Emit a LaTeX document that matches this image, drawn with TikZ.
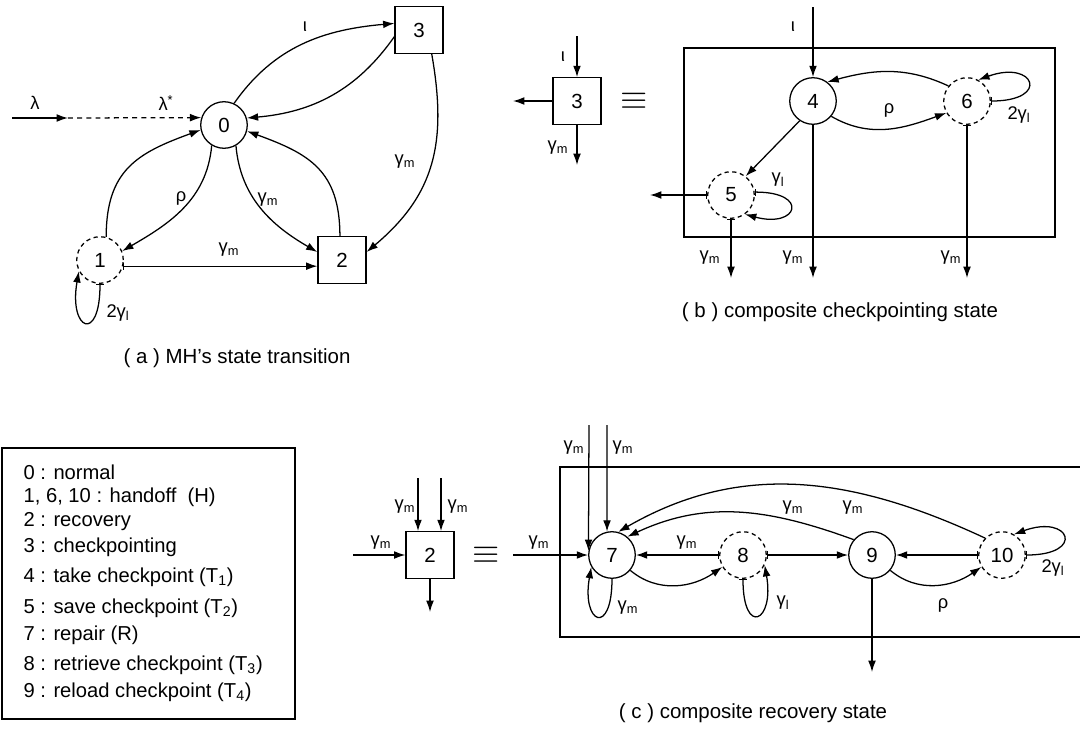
\documentclass[tikz,border=0pt]{standalone}
\usepackage{fontspec}
\setmainfont{Liberation Sans}
\usetikzlibrary{arrows.meta,positioning}
\newcommand{\gmm}{γ\textsubscript{m}}
\newcommand{\gml}{γ\textsubscript{l}}

\begin{document}
\begin{tikzpicture}[x=0.709pt, y=0.709pt, line width=0.9pt,
  st/.style={draw, circle, minimum size=33pt, inner sep=0pt, font=\fontsize{14.5}{16}\selectfont},
  hst/.style={st, dash pattern=on 3pt off 2.5pt},
  sq/.style={draw, rectangle, minimum width=34pt, minimum height=33pt, inner sep=0pt, font=\fontsize{14.5}{16}\selectfont},
  lbl/.style={font=\fontsize{13}{15}\selectfont, inner sep=1pt},
  captxt/.style={font=\fontsize{14.5}{16}\selectfont},
  legtxt/.style={anchor=west, font=\fontsize{14.3}{16}\selectfont, inner sep=0pt},
  eqv/.style={font=\fontsize{24}{24}\selectfont},
  arr/.style={-{Latex[length=8pt,width=5.5pt]}},
  barr/.style={{Bar[width=5pt]}-{Latex[length=8pt,width=5.5pt]}}
]
\useasboundingbox (0,0) rectangle (1080,-729);

% (a)
\node[st] (n0) at (224,-125) {0};
\node[hst] (n1) at (100,-260) {1};
\node[sq] (n2) at (342,-260) {2};
\node[sq] (n3) at (419,-30) {3};
\coordinate (lamA) at (12,-118);
\coordinate (lamB) at (68,-118);
\draw[arr] (lamA) -- (lamB);
\draw[arr, dash pattern=on 3.5pt off 3pt] (lamB) -- (n0.162);
\node[lbl] (lam) at (35,-103) {λ};
\node[lbl] (lamst) at (166,-103) {λ\textsuperscript{*}};
\draw[arr] (n0.65) to[out=55, in=185] (n3.165);
\draw[arr] (n3.195) to[out=235, in=5] (n0.17);
\draw[arr] (n3.-62) to[out=-80, in=40, looseness=1.1] (n2.18);
\draw[arr] (n0.-121) to[out=-95, in=30] (n1.22);
\draw[arr] (n1.75) to[out=90, in=200, looseness=1.2] (n0.192);
\draw[arr] (n0.-60) to[out=-85, in=150] (n2.162);
\draw[arr] (n2.95) to[out=90, in=-20, looseness=1.2] (n0.-15);
\draw[barr] (n1.-15) -- (n1.-15 -| n2.west);
\draw[barr] (n1.south) .. controls +(-90:60) and +(-100:60) .. (n1.-152);
\node[lbl] (la1) at (305,-27) {ι};
\node[lbl] (la2) at (405,-162) {\gmm};
\node[lbl] (la3) at (181,-198) {ρ};
\node[lbl] (la4) at (268,-200) {\gmm};
\node[lbl] (la5) at (229,-250) {\gmm};
\node[lbl] (la6) at (118,-313) {2\gml};
\node[captxt] (capa) at (237,-358) {( a ) MH’s state transition};

% (b)
\node[sq] (s3) at (577,-101) {3};
\coordinate (s3in) at (577,-36);
\coordinate (s3out) at (513,-101);
\coordinate (s3dn) at (577,-165);
\draw[arr] (s3in) -- (s3.north);
\draw[arr] (s3.west) -- (s3out);
\draw[arr] (s3.south) -- (s3dn);
\node[lbl] (lb1) at (563,-57) {ι};
\node[lbl] (lb2) at (558,-148) {\gmm};
\node[eqv] (eqb) at (634,-101) {$\equiv$};
\draw (684,-48) rectangle (1055,-237);
\node[st] (n4) at (813,-101) {4};
\node[hst] (n5) at (731,-195) {5};
\node[hst] (n6) at (967,-101) {6};
\coordinate (n4in) at (813,-7);
\draw[arr] (n4in) -- (n4.north);
\draw[arr] (n6.141) to[out=155, in=15] (n4.53);
\draw[arr] (n4.-40) to[out=-30, in=200] (n6.-150);
\draw[barr] (n6.east) .. controls +(0:60) and +(20:60) .. (n6.62);
\draw[arr] (n4.-124) -- (n5.52);
\draw[barr] (n5.7) .. controls +(0:55) and +(-15:55) .. (n5.-54);
\coordinate (n5out) at (650,-195);
\draw[barr] (n5.west) -- (n5out);
\coordinate (n5dn) at (731,-278);
\coordinate (n4dn) at (813,-278);
\coordinate (n6dn) at (967,-278);
\draw[barr] (n5.south) -- (n5dn);
\draw[arr] (n4.south) -- (n4dn);
\draw[barr] (n6.south) -- (n6dn);
\node[lbl] (lb3) at (793,-27) {ι};
\node[lbl] (lb4) at (889,-110) {ρ};
\node[lbl] (lb5) at (1019,-115) {2\gml};
\node[lbl] (lb6) at (778,-180) {\gml};
\node[lbl] (lb7) at (710,-258) {\gmm};
\node[lbl] (lb8) at (793,-258) {\gmm};
\node[lbl] (lb9) at (951,-258) {\gmm};
\node[captxt] (capb) at (840,-312) {( b ) composite checkpointing state};

% legend
\draw[line width=1.4pt] (2,-448) rectangle (295,-719);
\node[legtxt] (k0) at (23,-472) {0 : normal};
\node[legtxt] (k1) at (23,-497) {1, 6, 10 : handoff~ (H)};
\node[legtxt] (k2) at (23,-522) {2 : recovery};
\node[legtxt] (k3) at (23,-547) {3 : checkpointing};
\node[legtxt] (k4) at (23,-577) {4 : take checkpoint (T\textsubscript{1})};
\node[legtxt] (k5) at (23,-608) {5 : save checkpoint (T\textsubscript{2})};
\node[legtxt] (k7) at (23,-635) {7 : repair (R)};
\node[legtxt] (k8) at (23,-665) {8 : retrieve checkpoint (T\textsubscript{3})};
\node[legtxt] (k9) at (23,-692) {9 : reload checkpoint (T\textsubscript{4})};

% (c)
\node[sq] (r2) at (430,-555) {2};
\coordinate (r2in) at (353,-555);
\coordinate (r2ta) at (418,-478);
\coordinate (r2tb) at (441,-478);
\coordinate (r2dn) at (430,-612);
\draw[arr] (r2in) -- (r2.west);
\draw[arr] (r2ta) -- (r2ta |- r2.north);
\draw[arr] (r2tb) -- (r2tb |- r2.north);
\draw[arr] (r2.south) -- (r2dn);
\node[lbl] (lc1) at (381,-543) {\gmm};
\node[lbl] (lc2) at (405,-507) {\gmm};
\node[lbl] (lc3) at (458,-507) {\gmm};
\node[eqv] (eqc) at (486,-555) {$\equiv$};
\draw (560,-467) rectangle (1095,-637);
\node[st] (n7) at (612,-555) {7};
\node[hst] (n8) at (743,-555) {8};
\node[st] (n9) at (872,-555) {9};
\node[hst] (n10) at (1002,-555) {10};
\coordinate (n7in) at (513,-555);
\coordinate (n7ta) at (589,-425);
\coordinate (n7tb) at (607,-425);
\draw[arr] (n7in) -- (n7.west);
\draw[arr] (n7ta) -- (n7.170);
\draw[arr] (n7tb) -- (n7.102);
\draw[barr] (n8.west) -- (n7.east);
\draw[arr] (n7.-40) to[out=-40, in=-145] (n8.-150);
\draw[arr] (n7.south) .. controls +(-90:58) and +(-100:58) .. (n7.-150);
\draw[barr] (n8.south) .. controls +(-90:58) and +(-80:58) .. (n8.-25);
\draw[barr] (n8.east) -- (n9.west);
\draw[barr] (n10.west) -- (n9.east);
\draw[arr] (n9.-40) to[out=-40, in=-145] (n10.-150);
\draw[barr] (n10.east) .. controls +(0:60) and +(20:60) .. (n10.60);
\draw[arr] (n9.140) to[out=160, in=25] (n7.50);
\draw[arr] (n10.135) to[out=155, in=30] (n7.75);
\coordinate (n9dn) at (872,-672);
\draw[arr] (n9.south) -- (n9dn);
\node[lbl] (lc4) at (539,-543) {\gmm};
\node[lbl] (lc5) at (574,-448) {\gmm};
\node[lbl] (lc6) at (623,-448) {\gmm};
\node[lbl] (lc7) at (687,-543) {\gmm};
\node[lbl] (lc8) at (628,-608) {\gmm};
\node[lbl] (lc9) at (783,-603) {\gml};
\node[lbl] (lc10) at (943,-605) {ρ};
\node[lbl] (lc11) at (1053,-568) {2\gml};
\node[lbl] (lc12) at (793,-508) {\gmm};
\node[lbl] (lc13) at (853,-508) {\gmm};
\node[captxt] (capc) at (753,-713) {( c ) composite recovery state};
\end{tikzpicture}
\end{document}
